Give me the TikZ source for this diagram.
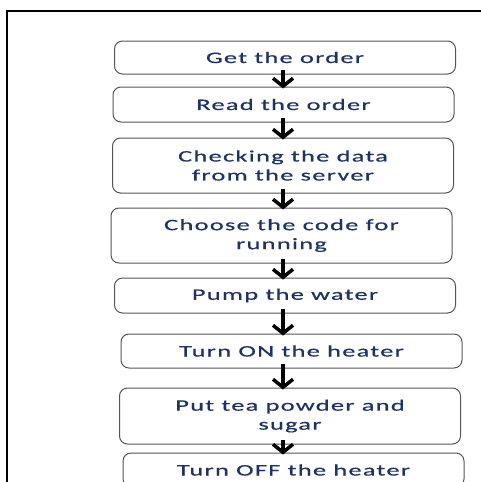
\documentclass[tikz,border=0pt]{standalone}
\usepackage{fontspec}
\setmainfont{Carlito}[FakeStretch=1.65,LetterSpace=8,FakeBold=0.6]
\usetikzlibrary{arrows.meta}
\definecolor{boxtext}{RGB}{30,50,100}
\definecolor{boxline}{RGB}{85,85,85}

\begin{document}
\begin{tikzpicture}[x=1pt,y=-1pt,
  flowbox/.style={draw=boxline, line width=1pt, rounded corners=8pt, minimum width=341pt,
    inner sep=0pt, align=center, text=boxtext, font=\fontsize{16}{19}\selectfont},
  flowarrow/.style={line width=3.5pt, -{Straight Barb[length=8pt,width=20pt]},
    shorten <=-5pt, shorten >=-2pt}]
\useasboundingbox (0,0) rectangle (481,482);
\clip (0,0) rectangle (481,482);
\draw[line width=2pt] (7,482) -- (7,11) -- (481,11);
\coordinate (spine) at (283,0);
\node[flowbox, minimum height=33pt] (order) at (285,57.5) {Get the order};
\node[flowbox, minimum height=35pt] (read) at (283.5,104.5) {Read the order};
\node[flowbox, minimum height=55pt] (check) at (283,165.5) {Checking the data\\from the server};
\node[flowbox, minimum height=55pt] (code) at (281.5,235.5) {Choose the code for\\running};
\node[flowbox, minimum height=35pt] (pump) at (285,295.5) {Pump the water};
\node[flowbox, minimum height=34pt] (heaton) at (291.5,351) {Turn ON the heater};
\node[flowbox, minimum height=56pt] (tea) at (290,416) {Put tea powder and\\sugar};
\node[flowbox, minimum height=34pt] (heatoff) at (293.5,470) {Turn OFF the heater};
\foreach \a/\b in {order/read, read/check, check/code, code/pump, pump/heaton, heaton/tea, tea/heatoff}
  \draw[flowarrow] (\a.south -| spine) -- (\b.north -| spine);
\end{tikzpicture}
\end{document}
